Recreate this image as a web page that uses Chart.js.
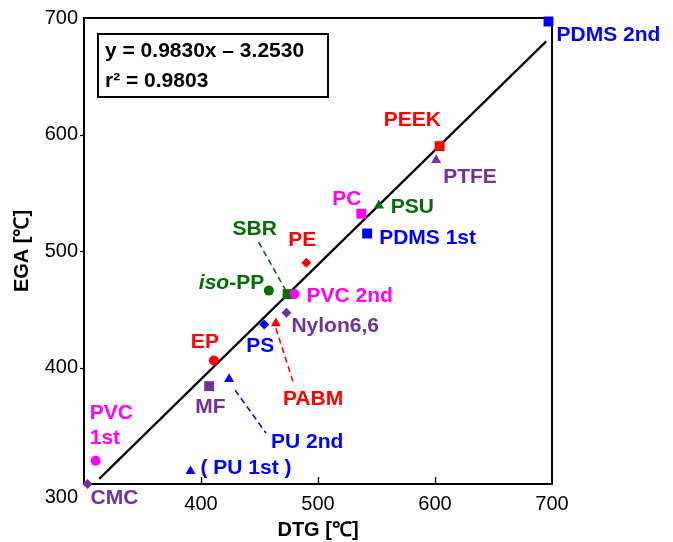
<!DOCTYPE html>
<html><head><meta charset="utf-8">
<script src="https://cdn.jsdelivr.net/npm/chart.js@4"></script>
<style>html,body{margin:0;padding:0;background:#fff}#wrap{width:673px;height:542px}</style>
</head><body><div id="wrap"><canvas id="c" width="673" height="542"></canvas></div>
<script>
// ---- data ----
const names = ['PDMS 2nd','PEEK','PTFE','PSU','PC','PDMS 1st','PE','SBR','iso-PP','PVC 2nd','Nylon6,6','PS','PABM','EP','MF','PU 2nd','PU 1st','PVC 1st','CMC'];
const dtg   = [697, 604, 601, 552, 537, 542, 490, 474, 458, 480, 473, 454, 464, 411, 407, 424, 391, 310, 303];
const ega   = [697, 590, 578, 539, 532, 515, 490, 463, 466, 463, 447, 437, 438, 406, 384, 390, 311, 320, 300];
const xTicks = [300, 400, 500, 600, 700];
const yTicks = [300, 400, 500, 600, 700];
const fitSlope = 0.9830, fitIntercept = -3.2530, fitR2 = 0.9803;
const fitRange = [313, 695];

// ---- styles ----
const RED='#ff0000', MAG='#ff00ff', BLUE='#0000ff', GREEN='#006f00', PURP='#7030a0';
const style = {
  'PDMS 2nd':{c:BLUE,s:'rect',r:7, dx:8,dy:14},
  'PEEK':{c:RED,s:'rect',r:7, dx:-56,dy:-26},
  'PTFE':{c:PURP,s:'triangle',r:5.8, dx:7,dy:17},
  'PSU':{c:GREEN,s:'triangle',r:5.8, dx:12,dy:2},
  'PC':{c:MAG,s:'rect',r:7, dx:-29,dy:-15},
  'PDMS 1st':{c:BLUE,s:'rect',r:7, dx:12,dy:5},
  'PE':{c:RED,s:'rectRot',r:5, dx:-18,dy:-22},
  'SBR':{c:GREEN,s:'rect',r:7, dx:-55,dy:-65, lead:[-29,-52,-2,-4]},
  'iso-PP':{c:GREEN,s:'circle',r:5, dx:-70,dy:-7, iso:true},
  'PVC 2nd':{c:MAG,s:'circle',r:5, dx:12,dy:2},
  'Nylon6,6':{c:PURP,s:'rectRot',r:5, dx:5,dy:13},
  'PS':{c:BLUE,s:'rectRot',r:5, dx:-18,dy:22},
  'PABM':{c:RED,s:'triangle',r:5.8, dx:7,dy:76, lead:[0,5,17,58]},
  'EP':{c:RED,s:'circle',r:5, dx:-23,dy:-18},
  'MF':{c:PURP,s:'rect',r:7, dx:-14,dy:21},
  'PU 2nd':{c:BLUE,s:'triangle',r:5.8, dx:42,dy:63, lead:[6,11,37,54]},
  'PU 1st':{c:BLUE,s:'triangle',r:5.8, dx:10,dy:-3, text:'( PU 1st )'},
  'PVC 1st':{c:MAG,s:'circle',r:5, dx:-6,dy:-47, lines:['PVC','1st']},
  'CMC':{c:PURP,s:'rectRot',r:5, dx:3,dy:14}
};
const FONT = '"Liberation Sans", Arial, Helvetica, sans-serif';
const LBL = 21;

const pts = names.map((n,i)=>({x:dtg[i], y:ega[i]}));
const fitLine = fitRange.map(x=>({x, y: fitSlope*x + fitIntercept}));

const deco = {
  id:'deco',
  beforeDatasetsDraw(chart){
    const {ctx, chartArea:a, scales:{x,y}} = chart;
    ctx.save();
    ctx.strokeStyle='#000'; ctx.lineWidth=2;
    ctx.strokeRect(a.left, a.top, a.right-a.left, a.bottom-a.top);
    ctx.lineWidth=1.3;
    xTicks.slice(1,-1).forEach(v=>{
      const px=Math.round(x.getPixelForValue(v))+0.5;
      ctx.beginPath(); ctx.moveTo(px,a.bottom); ctx.lineTo(px,a.bottom-7); ctx.stroke();
    });
    yTicks.slice(1,-1).forEach(v=>{
      const py=Math.round(y.getPixelForValue(v))+0.5;
      ctx.beginPath(); ctx.moveTo(a.left,py); ctx.lineTo(a.left-4,py); ctx.stroke();
    });
    // corner label for y = 300
    ctx.fillStyle='#000'; ctx.font='20px '+FONT; ctx.textAlign='right'; ctx.textBaseline='middle';
    ctx.fillText(String(yTicks[0]), a.left-6, y.getPixelForValue(yTicks[0])+13);
    // equation box
    const bx=a.left+14, by=a.top+16, bw=230, bh=63;
    ctx.lineWidth=2; ctx.strokeRect(bx,by,bw,bh);
    ctx.font='bold '+LBL+'px '+FONT; ctx.textAlign='left';
    const sign = fitIntercept<0?' \u2013 ':' + ';
    ctx.fillText('y = '+fitSlope.toFixed(4)+'x'+sign+Math.abs(fitIntercept).toFixed(4), bx+7, by+17);
    ctx.fillText('r\u00b2 = '+fitR2.toFixed(4), bx+7, by+47);
    ctx.restore();
  },
  afterDatasetsDraw(chart){
    const {ctx, scales:{x,y}} = chart;
    ctx.save();
    ctx.textAlign='left'; ctx.textBaseline='middle';
    names.forEach((n,i)=>{
      const st=style[n];
      const px=x.getPixelForValue(dtg[i]), py=y.getPixelForValue(ega[i]);
      ctx.fillStyle=st.c; ctx.strokeStyle=st.c;
      if(st.lead){
        ctx.setLineDash([6,4]); ctx.lineWidth=1.6;
        ctx.beginPath(); ctx.moveTo(px+st.lead[0],py+st.lead[1]); ctx.lineTo(px+st.lead[2],py+st.lead[3]); ctx.stroke();
        ctx.setLineDash([]);
      }
      const tx=px+st.dx, ty=py+st.dy;
      if(st.iso){
        ctx.font='italic bold '+LBL+'px '+FONT;
        ctx.fillText('iso', tx, ty);
        const w=ctx.measureText('iso').width;
        ctx.font='bold '+LBL+'px '+FONT;
        ctx.fillText('-PP', tx+w, ty);
      } else if(st.lines){
        ctx.font='bold '+LBL+'px '+FONT;
        st.lines.forEach((l,k)=>ctx.fillText(l, tx, ty+k*25));
      } else {
        ctx.font='bold '+LBL+'px '+FONT;
        ctx.fillText(st.text||n, tx, ty);
      }
    });
    ctx.restore();
  }
};

new Chart(document.getElementById('c'), {
  data:{datasets:[
    {type:'scatter', data:pts, order:0, clip:false,
     pointStyle:names.map(n=>style[n].s),
     pointRadius:names.map(n=>style[n].r),
     pointHoverRadius:names.map(n=>style[n].r),
     backgroundColor:names.map(n=>style[n].c),
     borderColor:names.map(n=>style[n].c),
     borderWidth:0},
    {type:'line', data:fitLine, order:1, borderColor:'#000', borderWidth:2.2, pointRadius:0, fill:false}
  ]},
  options:{
    responsive:false, animation:false, devicePixelRatio:1,
    layout:{padding:{left:0,right:121,top:18,bottom:0}},
    plugins:{legend:{display:false}, tooltip:{enabled:false}},
    scales:{
      x:{type:'linear', min:xTicks[0], max:xTicks[xTicks.length-1],
         afterBuildTicks:s=>{s.ticks=xTicks.map(v=>({value:v}));},
         afterFit:s=>{s.height=58;},
         grid:{display:false, drawTicks:false}, border:{display:false},
         ticks:{color:'#000', font:{family:FONT,size:20}, padding:8, maxRotation:0,
                callback:v=> v===xTicks[0]?'':String(v)},
         title:{display:true, text:'DTG [\u2103]', color:'#000', font:{family:FONT,size:20,weight:'bold'}, padding:{top:0,bottom:0}}},
      y:{type:'linear', min:yTicks[0], max:yTicks[yTicks.length-1],
         afterBuildTicks:s=>{s.ticks=yTicks.map(v=>({value:v}));},
         afterFit:s=>{s.width=84;},
         grid:{display:false, drawTicks:false}, border:{display:false},
         ticks:{color:'#000', font:{family:FONT,size:20}, padding:6,
                callback:v=> v===yTicks[0]?'':String(v)},
         title:{display:true, text:'EGA [\u2103]', color:'#000', font:{family:FONT,size:20,weight:'bold'}, padding:{top:10,bottom:0}}}
    }
  },
  plugins:[deco]
});
</script></body></html>
